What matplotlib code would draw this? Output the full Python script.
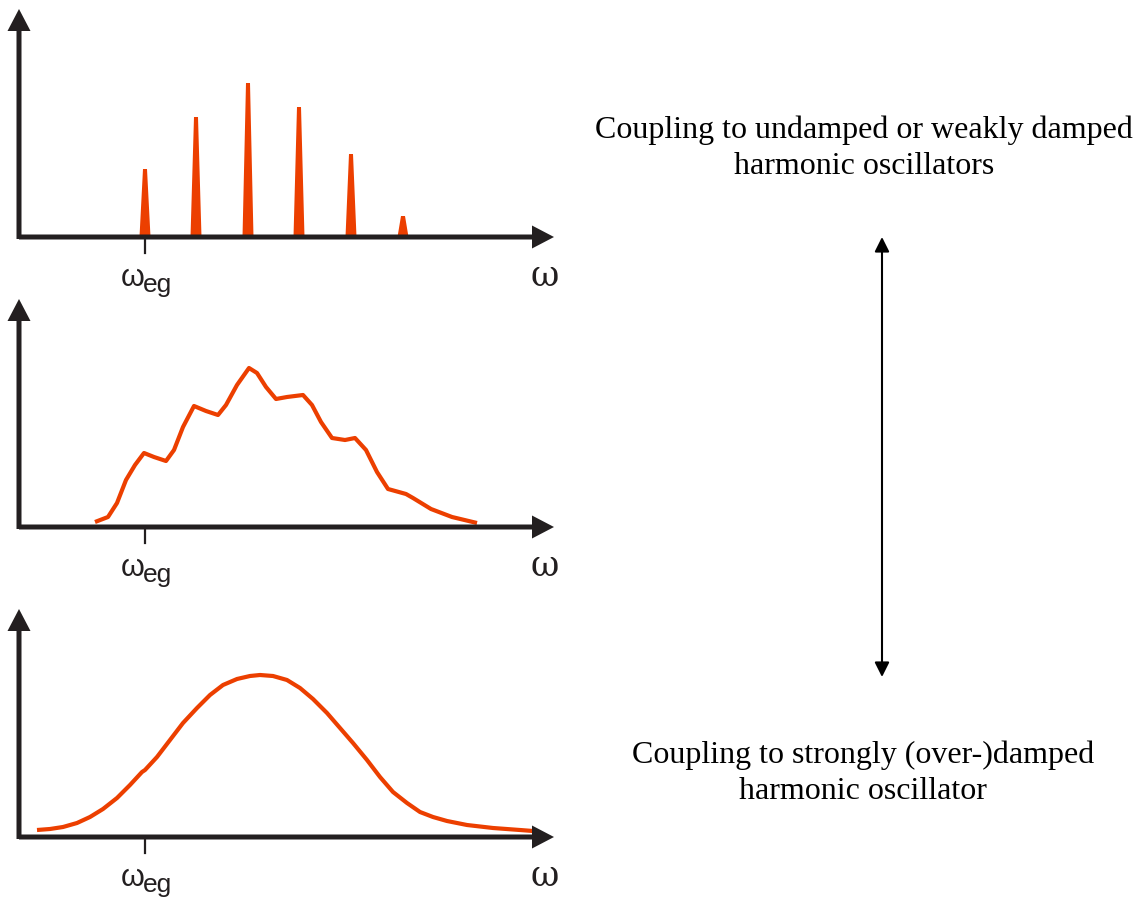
import numpy as np
import matplotlib
matplotlib.use('Agg')
import matplotlib.pyplot as plt
from matplotlib.patches import FancyArrowPatch

RED = '#EC3F00'
BLACK = '#231F20'

# frequencies are given relative to w_eg (tick at 0), intensities in arbitrary units

# top: line spectrum (undamped oscillators)
peak_w = [0, 51, 103, 154, 206, 258]
peak_h = [68, 120, 154, 130, 83, 21]

# middle: weakly damped -> broadened progression
mid_w = [-50, -37, -28, -19, -10, -1, 9, 21, 29, 38, 49, 61, 73, 81, 92, 104, 112,
         121, 131, 142, 158, 167, 176, 187, 200, 210, 221, 232, 243, 261, 268, 286,
         307, 332]
mid_h = [5, 10, 24, 47, 62, 74, 70, 66, 77, 100, 121, 116, 112, 122, 142, 159, 154,
         140, 128, 130, 132, 122, 105, 89, 87, 89, 77, 55, 38, 33, 29, 18, 10, 4]

# bottom: strongly damped -> smooth band
low_w = [-108, -95, -82, -68, -55, -42, -28, -15, -3, 0, 12, 25, 38, 52, 65, 78, 92,
         105, 115, 128, 142, 155, 168, 182, 195, 208, 222, 235, 248, 262, 275, 288,
         302, 322, 348, 375, 388]
low_h = [7, 8, 10, 14, 20, 28, 39, 52, 65, 67, 80, 97, 114, 129, 142, 152, 158,
         161, 162, 161, 157, 149, 138, 124, 109, 94, 77, 60, 45, 34, 25, 20,
         16, 12, 9, 7, 6]

top_text = 'Coupling to undamped or weakly damped\nharmonic oscillators'
bottom_text = 'Coupling to strongly (over-)damped\nharmonic oscillator'

W, H = 1145, 900
fig = plt.figure(figsize=(W / 100, H / 100), dpi=100)

X0, X1 = -126, 407   # y-axis position and x-arrow tip, relative to w_eg
YTOP = 228


def make_panel(axis_y):
    ax = fig.add_axes([(145 + X0) / W, 1 - axis_y / H, (X1 - X0) / W, YTOP / H])
    ax.set_xlim(X0, X1)
    ax.set_ylim(0, YTOP)
    ax.axis('off')
    ax.arrow(X0, 0, X1 - X0 + 2, 0, width=5, head_width=23, head_length=22,
             length_includes_head=True, color=BLACK, lw=0, clip_on=False, zorder=5)
    ax.arrow(X0, -2, 0, YTOP + 2, width=5, head_width=23, head_length=22,
             length_includes_head=True, color=BLACK, lw=0, clip_on=False, zorder=5)
    ax.plot([0, 0], [0, -16], color=BLACK, lw=1.6, clip_on=False, zorder=5)
    # omega_eg label: omega plus a large subscript
    ax.text(-24, -49, 'ω', fontsize=22, family='Liberation Sans',
            ha='left', va='baseline', color=BLACK)
    ax.text(-2, -55, 'eg', fontsize=19, family='Liberation Sans',
            ha='left', va='baseline', color=BLACK)
    ax.text(X1 - 22, -49, 'ω', fontsize=25, family='DejaVu Serif',
            ha='left', va='baseline', color=BLACK)
    return ax


ax1 = make_panel(237)
for w, h in zip(peak_w, peak_h):
    # narrow spike: ~11 px wide at the base, ~4 px flat top
    ax1.fill([w - 5.5, w - 2, w + 2, w + 5.5], [0, h, h, 0], color=RED, lw=0,
             zorder=2)

ax2 = make_panel(527)
ax2.plot(mid_w, mid_h, color=RED, lw=3.0, solid_joinstyle='round',
         solid_capstyle='butt', zorder=2)

ax3 = make_panel(837)
ax3.plot(low_w, low_h, color=RED, lw=3.0, solid_joinstyle='round',
         solid_capstyle='butt', zorder=2)

fig.text(864 / W, 1 - 148 / H, top_text, fontsize=23, family='Liberation Serif',
         ha='center', va='center', linespacing=1.32, color='black')
fig.text(863 / W, 1 - 773 / H, bottom_text, fontsize=23, family='Liberation Serif',
         ha='center', va='center', linespacing=1.32, color='black')

# double arrow between the two descriptions
arr = FancyArrowPatch((882 / W, 1 - 237 / H), (882 / W, 1 - 677 / H),
                      transform=fig.transFigure, arrowstyle='<|-|>',
                      mutation_scale=22, lw=1.5, color='black',
                      shrinkA=0, shrinkB=0)
fig.add_artist(arr)

fig.savefig('out.png', dpi=100)
